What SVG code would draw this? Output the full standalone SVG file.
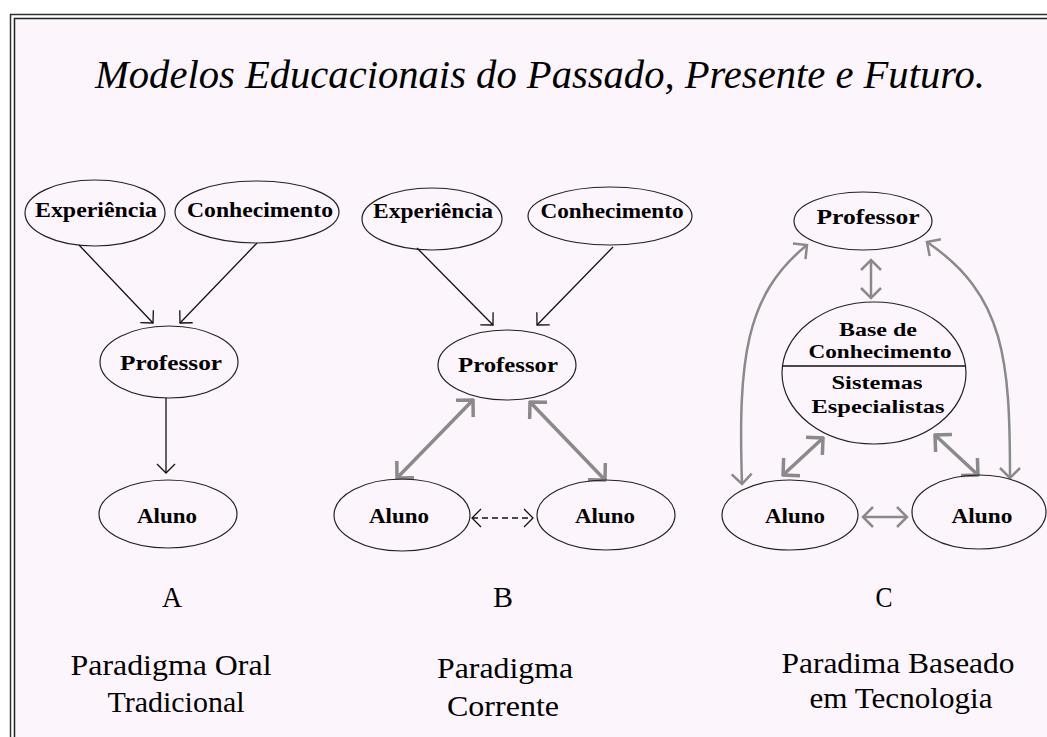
<svg xmlns="http://www.w3.org/2000/svg" width="1047" height="737" viewBox="0 0 1047 737">
<style>
.el{fill:none;stroke:#222;stroke-width:1.2}
.nt{font-family:"Liberation Serif","Times New Roman",serif;font-weight:bold;font-size:21px;fill:#000;text-anchor:middle}
.nts{font-size:19px}
.lb{font-family:"Liberation Serif","Times New Roman",serif;font-size:30px;fill:#000;text-anchor:middle}
.ttl{font-family:"Liberation Serif","Times New Roman",serif;font-style:italic;font-size:39px;fill:#000;text-anchor:middle}
.blk{fill:none;stroke:#111;stroke-width:1.3}
.gry{fill:none;stroke:#8a8a8a;stroke-width:3.5}
.gry2{fill:none;stroke:#8a8a8a;stroke-width:2.5}
</style>
<defs>
<marker id="ab" viewBox="-12 -12 14 24" markerWidth="14" markerHeight="24" refX="0" refY="0" orient="auto-start-reverse" markerUnits="userSpaceOnUse"><path d="M-9,-9 L0,0 L-9,9" fill="none" stroke="#111" stroke-width="1.3"/></marker>
<marker id="ag" viewBox="-16 -16 18 32" markerWidth="18" markerHeight="32" refX="0" refY="0" orient="auto-start-reverse" markerUnits="userSpaceOnUse"><path d="M-12,-12 L0,0 L-12,12" fill="none" stroke="#8a8a8a" stroke-width="3.5"/></marker>
<marker id="ag2" viewBox="-14 -14 16 28" markerWidth="16" markerHeight="28" refX="0" refY="0" orient="auto-start-reverse" markerUnits="userSpaceOnUse"><path d="M-10,-10 L0,0 L-10,10" fill="none" stroke="#8a8a8a" stroke-width="2.5"/></marker>
</defs>
<rect x="0" y="0" width="1047" height="737" fill="#fff"/>
<rect x="10.5" y="14.5" width="1100" height="800" fill="#fff" stroke="#333" stroke-width="1.5"/>
<rect x="14.5" y="18.5" width="1100" height="800" fill="#fcf6fc" stroke="#222" stroke-width="1.5"/>
<text class="ttl" x="540" y="88" textLength="890" lengthAdjust="spacingAndGlyphs">Modelos Educacionais do Passado, Presente e Futuro.</text>

<g id="connectors">
<line class="blk" x1="79" y1="245" x2="153" y2="323" marker-end="url(#ab)"/>
<line class="blk" x1="257" y1="243" x2="180" y2="323" marker-end="url(#ab)"/>
<line class="blk" x1="166" y1="398" x2="166" y2="473" marker-end="url(#ab)"/>
<line class="blk" x1="417" y1="248" x2="493" y2="325" marker-end="url(#ab)"/>
<line class="blk" x1="613" y1="247" x2="537" y2="325" marker-end="url(#ab)"/>
<line class="gry" x1="473" y1="400" x2="397" y2="478" marker-start="url(#ag)" marker-end="url(#ag)"/>
<line class="gry" x1="530" y1="402" x2="605" y2="480" marker-start="url(#ag)" marker-end="url(#ag)"/>
<line class="blk" x1="472" y1="518" x2="533" y2="518" stroke-dasharray="6,4" marker-start="url(#ab)" marker-end="url(#ab)"/>
<line class="gry2" x1="871" y1="260" x2="871" y2="298" marker-start="url(#ag2)" marker-end="url(#ag2)"/>
<line class="gry" x1="823" y1="438" x2="783" y2="475" marker-start="url(#ag)" marker-end="url(#ag)"/>
<line class="gry" x1="935" y1="435" x2="978" y2="475" marker-start="url(#ag)" marker-end="url(#ag)"/>
<line class="gry2" x1="863" y1="517" x2="907" y2="517" marker-start="url(#ag2)" marker-end="url(#ag2)"/>
<path class="gry2" d="M742,484 C738,360 745,295 807,245" marker-start="url(#ag2)" marker-end="url(#ag2)"/>
<path class="gry2" d="M1010,478 C1010,360 1005,295 927,242" marker-start="url(#ag2)" marker-end="url(#ag2)"/>
</g>

<g id="a-experiencia"><ellipse class="el" cx="95" cy="213" rx="70" ry="33"/><text class="nt" x="96" y="217" textLength="122" lengthAdjust="spacingAndGlyphs">Experiência</text></g>
<g id="a-conhecimento"><ellipse class="el" cx="257" cy="212" rx="82" ry="31"/><text class="nt" x="260" y="217" textLength="146" lengthAdjust="spacingAndGlyphs">Conhecimento</text></g>
<g id="a-professor"><ellipse class="el" cx="169" cy="362" rx="69" ry="36"/><text class="nt" x="171" y="370" textLength="102" lengthAdjust="spacingAndGlyphs">Professor</text></g>
<g id="a-aluno"><ellipse class="el" cx="168" cy="514" rx="69" ry="34"/><text class="nt" x="167" y="523" textLength="60" lengthAdjust="spacingAndGlyphs">Aluno</text></g>

<g id="b-experiencia"><ellipse class="el" cx="432" cy="219" rx="70" ry="31"/><text class="nt" x="433" y="218" textLength="120" lengthAdjust="spacingAndGlyphs">Experiência</text></g>
<g id="b-conhecimento"><ellipse class="el" cx="610" cy="216" rx="82" ry="29"/><text class="nt" x="612" y="218" textLength="143" lengthAdjust="spacingAndGlyphs">Conhecimento</text></g>
<g id="b-professor"><ellipse class="el" cx="507" cy="365" rx="69" ry="35"/><text class="nt" x="508" y="372" textLength="100" lengthAdjust="spacingAndGlyphs">Professor</text></g>
<g id="b-aluno1"><ellipse class="el" cx="402" cy="515" rx="68" ry="36"/><text class="nt" x="399" y="523" textLength="60" lengthAdjust="spacingAndGlyphs">Aluno</text></g>
<g id="b-aluno2"><ellipse class="el" cx="606" cy="515" rx="69" ry="35"/><text class="nt" x="605" y="523" textLength="60" lengthAdjust="spacingAndGlyphs">Aluno</text></g>

<g id="c-professor"><ellipse class="el" cx="863" cy="221" rx="69" ry="29"/><text class="nt" x="868" y="224" textLength="103" lengthAdjust="spacingAndGlyphs">Professor</text></g>
<g id="c-base"><ellipse class="el" cx="874" cy="373" rx="92" ry="71"/><line x1="783" y1="366" x2="965" y2="366" stroke="#111" stroke-width="1.3"/>
<text class="nt nts" x="878" y="336" textLength="78" lengthAdjust="spacingAndGlyphs">Base de</text>
<text class="nt nts" x="880" y="358" textLength="143" lengthAdjust="spacingAndGlyphs">Conhecimento</text>
<text class="nt nts" x="877" y="389" textLength="91" lengthAdjust="spacingAndGlyphs">Sistemas</text>
<text class="nt nts" x="878" y="413" textLength="133" lengthAdjust="spacingAndGlyphs">Especialistas</text></g>
<g id="c-aluno1"><ellipse class="el" cx="790" cy="515" rx="68" ry="35"/><text class="nt" x="795" y="523" textLength="60" lengthAdjust="spacingAndGlyphs">Aluno</text></g>
<g id="c-aluno2"><ellipse class="el" cx="979" cy="512" rx="67" ry="37"/><text class="nt" x="982" y="523" textLength="61" lengthAdjust="spacingAndGlyphs">Aluno</text></g>

<g id="labels">
<text class="lb" x="172" y="607" textLength="20" lengthAdjust="spacingAndGlyphs">A</text>
<text class="lb" x="171" y="675" textLength="201" lengthAdjust="spacingAndGlyphs">Paradigma Oral</text>
<text class="lb" x="176" y="712" textLength="137" lengthAdjust="spacingAndGlyphs">Tradicional</text>
<text class="lb" x="503" y="607" textLength="20" lengthAdjust="spacingAndGlyphs">B</text>
<text class="lb" x="505" y="678" textLength="136" lengthAdjust="spacingAndGlyphs">Paradigma</text>
<text class="lb" x="503" y="716" textLength="112" lengthAdjust="spacingAndGlyphs">Corrente</text>
<text class="lb" x="884" y="607" textLength="17" lengthAdjust="spacingAndGlyphs">C</text>
<text class="lb" x="898" y="673" textLength="233" lengthAdjust="spacingAndGlyphs">Paradima Baseado</text>
<text class="lb" x="901" y="708" textLength="183" lengthAdjust="spacingAndGlyphs">em Tecnologia</text>
</g>
</svg>
